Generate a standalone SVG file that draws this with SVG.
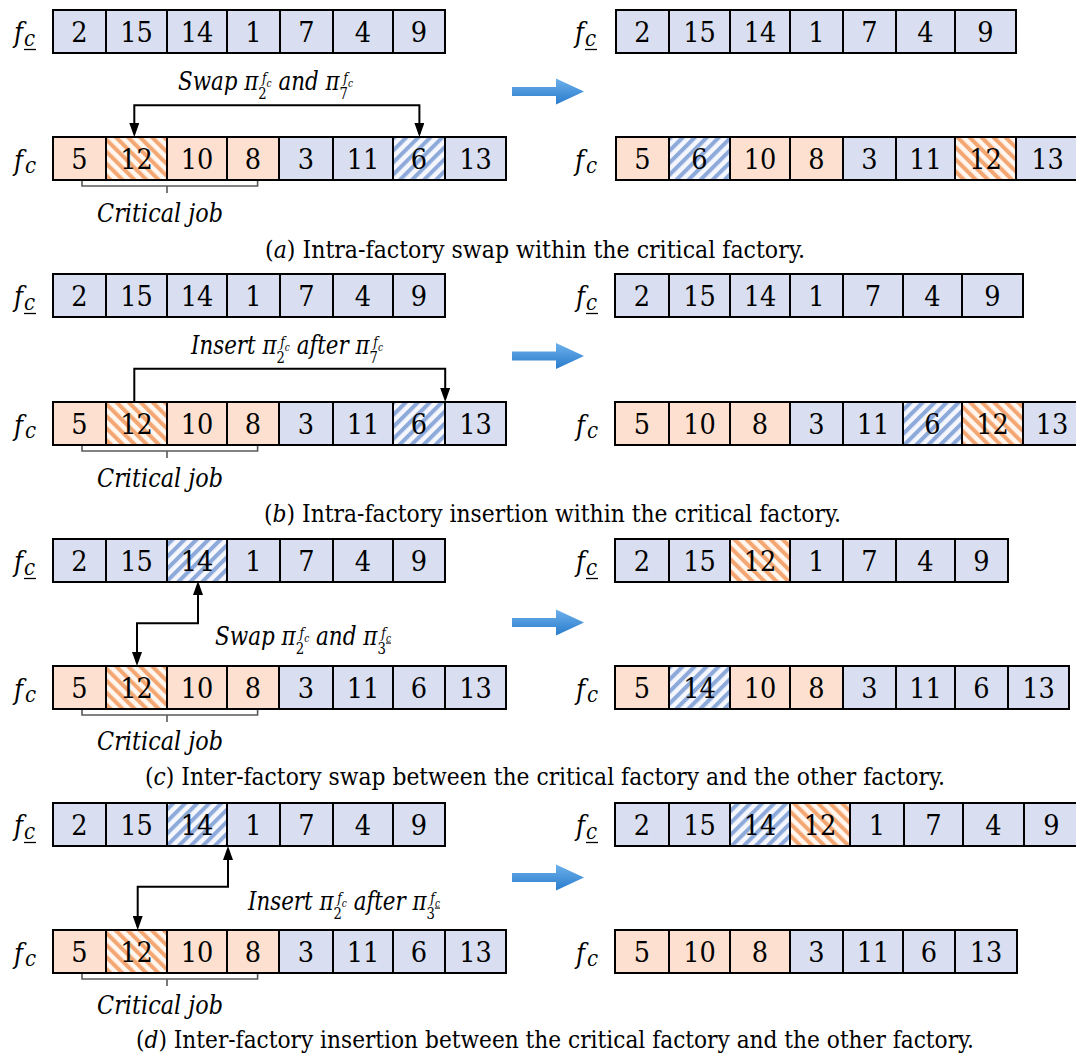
<svg xmlns="http://www.w3.org/2000/svg" width="1076" height="1054" viewBox="0 0 1076 1054">
  <defs>
    <style>
      .b { fill: #d9dff1; stroke: #000; stroke-width: 2; }
      .o { fill: #fde0d0; stroke: #000; stroke-width: 2; }
      .bh { fill: url(#hatchB); stroke: #000; stroke-width: 2; }
      .oh { fill: url(#hatchO); stroke: #000; stroke-width: 2; }
      .t { font-family: "DejaVu Serif Condensed", "DejaVu Serif", serif; font-stretch: condensed; fill: #000; }
      .n { font-size: 28.5px; text-anchor: middle; }
      .f { font-size: 27px; font-style: italic; }
      .fc { font-size: 22px; font-style: italic; }
      .ul { stroke: #000; stroke-width: 1.3; }
      .lab { font-size: 26px; font-style: italic; }
      .sub { font-size: 16px; font-style: normal; }
      .sup { font-size: 15px; }
      .supc { font-size: 11px; }
      .cj { font-size: 25.5px; font-style: italic; }
      .cap { font-size: 25px; }
      .conn { fill: none; stroke: #000; stroke-width: 2; }
      .brk { fill: none; stroke: #595959; stroke-width: 1.6; }
      .big { fill: url(#blueGrad); }
    </style>
    <pattern id="hatchO" width="8.5" height="8.5" patternUnits="userSpaceOnUse" patternTransform="rotate(-45)">
      <rect width="8.5" height="8.5" fill="#fff6ef"/>
      <rect width="4" height="8.5" fill="#f4a773"/>
    </pattern>
    <pattern id="hatchB" width="8.5" height="8.5" patternUnits="userSpaceOnUse" patternTransform="rotate(45)">
      <rect width="8.5" height="8.5" fill="#f5f7fc"/>
      <rect width="4" height="8.5" fill="#8eaadb"/>
    </pattern>
    <linearGradient id="blueGrad" x1="0" y1="0" x2="0" y2="1">
      <stop offset="0" stop-color="#6cb0ea"/>
      <stop offset="1" stop-color="#2a7ccd"/>
    </linearGradient>
    <marker id="ah" viewBox="0 0 14 10" refX="11" refY="5" markerWidth="14" markerHeight="10" markerUnits="userSpaceOnUse" orient="auto-start-reverse">
      <path d="M0,0 L14,5 L0,10 Z" fill="#000"/>
    </marker>
  </defs>
  <rect width="1076" height="1054" fill="#fff"/>

  <g class="t">
  <!-- ===== (a) intra-factory swap ===== -->
  <g id="a-left-top">
    <text class="f" x="14" y="42">f</text><text class="fc" x="24" y="46">c</text><line class="ul" x1="24" y1="49.5" x2="36" y2="49.5"/>
    <rect class="b" x="53" y="10" width="53" height="43"/><rect class="b" x="106" y="10" width="61" height="43"/><rect class="b" x="167" y="10" width="60" height="43"/><rect class="b" x="227" y="10" width="53" height="43"/><rect class="b" x="280" y="10" width="53" height="43"/><rect class="b" x="333" y="10" width="60" height="43"/><rect class="b" x="393" y="10" width="52" height="43"/>
    <text class="n" x="79.5" y="42">2</text><text class="n" x="136.5" y="42">15</text><text class="n" x="197" y="42">14</text><text class="n" x="253.5" y="42">1</text><text class="n" x="306.5" y="42">7</text><text class="n" x="363" y="42">4</text><text class="n" x="419" y="42">9</text>
  </g>
  <g id="a-left-bottom">
    <text class="f" x="14" y="170">f</text><text class="fc" x="25" y="173">c</text>
    <rect class="o" x="53" y="137" width="53" height="43"/><rect class="oh" x="106" y="137" width="61" height="43"/><rect class="o" x="167" y="137" width="60" height="43"/><rect class="o" x="227" y="137" width="52" height="43"/><rect class="b" x="279" y="137" width="54" height="43"/><rect class="b" x="333" y="137" width="60" height="43"/><rect class="bh" x="393" y="137" width="52" height="43"/><rect class="b" x="445" y="137" width="61" height="43"/>
    <text class="n" x="79.5" y="169">5</text><text class="n" x="136.5" y="169">12</text><text class="n" x="197" y="169">10</text><text class="n" x="253" y="169">8</text><text class="n" x="306" y="169">3</text><text class="n" x="363" y="169">11</text><text class="n" x="419" y="169">6</text><text class="n" x="475.5" y="169">13</text>
  </g>
  <g id="a-label">
    <text class="lab" x="178" y="90" textLength="175" lengthAdjust="spacingAndGlyphs">Swap <tspan>π</tspan><tspan class="sub" dy="9">2</tspan><tspan class="sup" dx="-5" dy="-16">f</tspan><tspan class="supc" dy="3.5">c</tspan><tspan dy="3.5"> and </tspan><tspan>π</tspan><tspan class="sub" dy="9">7</tspan><tspan class="sup" dx="-5" dy="-16">f</tspan><tspan class="supc" dy="3.5">c</tspan></text>
  </g>
  <g id="a-critical">
    <path class="brk" d="M82,181 V186 H257.6 V181 M167,186 V193"/>
    <text class="cj" x="97" y="222" textLength="126" lengthAdjust="spacingAndGlyphs">Critical job</text>
  </g>
  <g id="a-right-top">
    <text class="f" x="575" y="42">f</text><text class="fc" x="585" y="46">c</text><line class="ul" x1="585" y1="49.5" x2="597" y2="49.5"/>
    <rect class="b" x="616" y="10" width="53" height="43"/><rect class="b" x="669" y="10" width="61" height="43"/><rect class="b" x="730" y="10" width="60" height="43"/><rect class="b" x="790" y="10" width="53" height="43"/><rect class="b" x="843" y="10" width="53" height="43"/><rect class="b" x="896" y="10" width="59" height="43"/><rect class="b" x="955" y="10" width="61" height="43"/>
    <text class="n" x="642.5" y="42">2</text><text class="n" x="699.5" y="42">15</text><text class="n" x="760" y="42">14</text><text class="n" x="816.5" y="42">1</text><text class="n" x="869.5" y="42">7</text><text class="n" x="925.5" y="42">4</text><text class="n" x="985.5" y="42">9</text>
  </g>
  <g id="a-right-bottom">
    <text class="f" x="575" y="170">f</text><text class="fc" x="586" y="173">c</text>
    <rect class="o" x="616" y="137" width="53" height="43"/><rect class="bh" x="669" y="137" width="61" height="43"/><rect class="o" x="730" y="137" width="60" height="43"/><rect class="o" x="790" y="137" width="53" height="43"/><rect class="b" x="843" y="137" width="53" height="43"/><rect class="b" x="896" y="137" width="59" height="43"/><rect class="oh" x="955" y="137" width="61" height="43"/><rect class="b" x="1016" y="137" width="63" height="43"/>
    <text class="n" x="642.5" y="169">5</text><text class="n" x="699.5" y="169">6</text><text class="n" x="760" y="169">10</text><text class="n" x="816.5" y="169">8</text><text class="n" x="869.5" y="169">3</text><text class="n" x="925.5" y="169">11</text><text class="n" x="985.5" y="169">12</text><text class="n" x="1047.5" y="169">13</text>
  </g>
  <g id="a-caption">
    <text class="cap" x="265" y="258" textLength="540" lengthAdjust="spacingAndGlyphs">(<tspan font-style="italic">a</tspan>) Intra-factory swap within the critical factory.</text>
  </g>

  <!-- ===== (b) intra-factory insertion ===== -->
  <g id="b-left-top">
    <text class="f" x="14" y="306">f</text><text class="fc" x="24" y="310">c</text><line class="ul" x1="24" y1="313.5" x2="36" y2="313.5"/>
    <rect class="b" x="53" y="274" width="53" height="43"/><rect class="b" x="106" y="274" width="61" height="43"/><rect class="b" x="167" y="274" width="60" height="43"/><rect class="b" x="227" y="274" width="53" height="43"/><rect class="b" x="280" y="274" width="53" height="43"/><rect class="b" x="333" y="274" width="60" height="43"/><rect class="b" x="393" y="274" width="52" height="43"/>
    <text class="n" x="79.5" y="306">2</text><text class="n" x="136.5" y="306">15</text><text class="n" x="197" y="306">14</text><text class="n" x="253.5" y="306">1</text><text class="n" x="306.5" y="306">7</text><text class="n" x="363" y="306">4</text><text class="n" x="419" y="306">9</text>
  </g>
  <g id="b-left-bottom">
    <text class="f" x="14" y="435">f</text><text class="fc" x="25" y="438">c</text>
    <rect class="o" x="53" y="402" width="53" height="43"/><rect class="oh" x="106" y="402" width="61" height="43"/><rect class="o" x="167" y="402" width="60" height="43"/><rect class="o" x="227" y="402" width="52" height="43"/><rect class="b" x="279" y="402" width="54" height="43"/><rect class="b" x="333" y="402" width="60" height="43"/><rect class="bh" x="393" y="402" width="52" height="43"/><rect class="b" x="445" y="402" width="61" height="43"/>
    <text class="n" x="79.5" y="434">5</text><text class="n" x="136.5" y="434">12</text><text class="n" x="197" y="434">10</text><text class="n" x="253" y="434">8</text><text class="n" x="306" y="434">3</text><text class="n" x="363" y="434">11</text><text class="n" x="419" y="434">6</text><text class="n" x="475.5" y="434">13</text>
  </g>
  <g id="b-label">
    <text class="lab" x="191" y="354" textLength="192" lengthAdjust="spacingAndGlyphs">Insert <tspan>π</tspan><tspan class="sub" dy="9">2</tspan><tspan class="sup" dx="-5" dy="-16">f</tspan><tspan class="supc" dy="3.5">c</tspan><tspan dy="3.5"> after </tspan><tspan>π</tspan><tspan class="sub" dy="9">7</tspan><tspan class="sup" dx="-5" dy="-16">f</tspan><tspan class="supc" dy="3.5">c</tspan></text>
  </g>
  <g id="b-critical">
    <path class="brk" d="M82,446 V451 H257.6 V446 M167,451 V458"/>
    <text class="cj" x="97" y="487" textLength="126" lengthAdjust="spacingAndGlyphs">Critical job</text>
  </g>
  <g id="b-right-top">
    <text class="f" x="576" y="306">f</text><text class="fc" x="586" y="310">c</text><line class="ul" x1="586" y1="313.5" x2="598" y2="313.5"/>
    <rect class="b" x="615" y="274" width="54" height="43"/><rect class="b" x="669" y="274" width="61" height="43"/><rect class="b" x="730" y="274" width="60" height="43"/><rect class="b" x="790" y="274" width="53" height="43"/><rect class="b" x="843" y="274" width="60" height="43"/><rect class="b" x="903" y="274" width="59" height="43"/><rect class="b" x="962" y="274" width="61" height="43"/>
    <text class="n" x="642" y="306">2</text><text class="n" x="699.5" y="306">15</text><text class="n" x="760" y="306">14</text><text class="n" x="816.5" y="306">1</text><text class="n" x="873" y="306">7</text><text class="n" x="932.5" y="306">4</text><text class="n" x="992.5" y="306">9</text>
  </g>
  <g id="b-right-bottom">
    <text class="f" x="576" y="435">f</text><text class="fc" x="587" y="438">c</text>
    <rect class="o" x="615" y="402" width="54" height="43"/><rect class="o" x="669" y="402" width="61" height="43"/><rect class="o" x="730" y="402" width="60" height="43"/><rect class="b" x="790" y="402" width="53" height="43"/><rect class="b" x="843" y="402" width="60" height="43"/><rect class="bh" x="903" y="402" width="59" height="43"/><rect class="oh" x="962" y="402" width="61" height="43"/><rect class="b" x="1023" y="402" width="58" height="43"/>
    <text class="n" x="642" y="434">5</text><text class="n" x="699.5" y="434">10</text><text class="n" x="760" y="434">8</text><text class="n" x="816.5" y="434">3</text><text class="n" x="873" y="434">11</text><text class="n" x="932.5" y="434">6</text><text class="n" x="992.5" y="434">12</text><text class="n" x="1052" y="434">13</text>
  </g>
  <g id="b-caption">
    <text class="cap" x="264" y="522" textLength="577" lengthAdjust="spacingAndGlyphs">(<tspan font-style="italic">b</tspan>) Intra-factory insertion within the critical factory.</text>
  </g>

  <!-- ===== (c) inter-factory swap ===== -->
  <g id="c-left-top">
    <text class="f" x="14" y="571">f</text><text class="fc" x="24" y="575">c</text><line class="ul" x1="24" y1="578.5" x2="36" y2="578.5"/>
    <rect class="b" x="53" y="539" width="53" height="43"/><rect class="b" x="106" y="539" width="61" height="43"/><rect class="bh" x="167" y="539" width="60" height="43"/><rect class="b" x="227" y="539" width="53" height="43"/><rect class="b" x="280" y="539" width="53" height="43"/><rect class="b" x="333" y="539" width="60" height="43"/><rect class="b" x="393" y="539" width="52" height="43"/>
    <text class="n" x="79.5" y="571">2</text><text class="n" x="136.5" y="571">15</text><text class="n" x="197" y="571">14</text><text class="n" x="253.5" y="571">1</text><text class="n" x="306.5" y="571">7</text><text class="n" x="363" y="571">4</text><text class="n" x="419" y="571">9</text>
  </g>
  <g id="c-left-bottom">
    <text class="f" x="14" y="699">f</text><text class="fc" x="25" y="702">c</text>
    <rect class="o" x="53" y="666" width="53" height="43"/><rect class="oh" x="106" y="666" width="61" height="43"/><rect class="o" x="167" y="666" width="60" height="43"/><rect class="o" x="227" y="666" width="52" height="43"/><rect class="b" x="279" y="666" width="54" height="43"/><rect class="b" x="333" y="666" width="60" height="43"/><rect class="b" x="393" y="666" width="52" height="43"/><rect class="b" x="445" y="666" width="61" height="43"/>
    <text class="n" x="79.5" y="698">5</text><text class="n" x="136.5" y="698">12</text><text class="n" x="197" y="698">10</text><text class="n" x="253" y="698">8</text><text class="n" x="306" y="698">3</text><text class="n" x="363" y="698">11</text><text class="n" x="419" y="698">6</text><text class="n" x="475.5" y="698">13</text>
  </g>
  <g id="c-label">
    <text class="lab" x="215" y="645" textLength="176" lengthAdjust="spacingAndGlyphs">Swap <tspan>π</tspan><tspan class="sub" dy="9">2</tspan><tspan class="sup" dx="-5" dy="-16">f</tspan><tspan class="supc" dy="3.5">c</tspan><tspan dy="3.5"> and </tspan><tspan>π</tspan><tspan class="sub" dy="9">3</tspan><tspan class="sup" dx="-5" dy="-16">f</tspan><tspan class="supc" dy="3.5" text-decoration="underline">c</tspan></text>
  </g>
  <g id="c-critical">
    <path class="brk" d="M82,710 V715 H257.6 V710 M167,715 V722"/>
    <text class="cj" x="97" y="750" textLength="126" lengthAdjust="spacingAndGlyphs">Critical job</text>
  </g>
  <g id="c-right-top">
    <text class="f" x="576" y="571">f</text><text class="fc" x="586" y="575">c</text><line class="ul" x1="586" y1="578.5" x2="598" y2="578.5"/>
    <rect class="b" x="615" y="539" width="54" height="43"/><rect class="b" x="669" y="539" width="61" height="43"/><rect class="oh" x="730" y="539" width="60" height="43"/><rect class="b" x="790" y="539" width="53" height="43"/><rect class="b" x="843" y="539" width="53" height="43"/><rect class="b" x="896" y="539" width="59" height="43"/><rect class="b" x="955" y="539" width="53" height="43"/>
    <text class="n" x="642" y="571">2</text><text class="n" x="699.5" y="571">15</text><text class="n" x="760" y="571">12</text><text class="n" x="816.5" y="571">1</text><text class="n" x="869.5" y="571">7</text><text class="n" x="925.5" y="571">4</text><text class="n" x="981.5" y="571">9</text>
  </g>
  <g id="c-right-bottom">
    <text class="f" x="576" y="699">f</text><text class="fc" x="587" y="702">c</text>
    <rect class="o" x="615" y="666" width="54" height="43"/><rect class="bh" x="669" y="666" width="61" height="43"/><rect class="o" x="730" y="666" width="60" height="43"/><rect class="o" x="790" y="666" width="53" height="43"/><rect class="b" x="843" y="666" width="53" height="43"/><rect class="b" x="896" y="666" width="59" height="43"/><rect class="b" x="955" y="666" width="53" height="43"/><rect class="b" x="1008" y="666" width="61" height="43"/>
    <text class="n" x="642" y="698">5</text><text class="n" x="699.5" y="698">14</text><text class="n" x="760" y="698">10</text><text class="n" x="816.5" y="698">8</text><text class="n" x="869.5" y="698">3</text><text class="n" x="925.5" y="698">11</text><text class="n" x="981.5" y="698">6</text><text class="n" x="1038.5" y="698">13</text>
  </g>
  <g id="c-caption">
    <text class="cap" x="145" y="785" textLength="800" lengthAdjust="spacingAndGlyphs">(<tspan font-style="italic">c</tspan>) Inter-factory swap between the critical factory and the other factory.</text>
  </g>

  <!-- ===== (d) inter-factory insertion ===== -->
  <g id="d-left-top">
    <text class="f" x="14" y="835">f</text><text class="fc" x="24" y="839">c</text><line class="ul" x1="24" y1="842.5" x2="36" y2="842.5"/>
    <rect class="b" x="53" y="803" width="53" height="43"/><rect class="b" x="106" y="803" width="61" height="43"/><rect class="bh" x="167" y="803" width="60" height="43"/><rect class="b" x="227" y="803" width="53" height="43"/><rect class="b" x="280" y="803" width="53" height="43"/><rect class="b" x="333" y="803" width="60" height="43"/><rect class="b" x="393" y="803" width="52" height="43"/>
    <text class="n" x="79.5" y="835">2</text><text class="n" x="136.5" y="835">15</text><text class="n" x="197" y="835">14</text><text class="n" x="253.5" y="835">1</text><text class="n" x="306.5" y="835">7</text><text class="n" x="363" y="835">4</text><text class="n" x="419" y="835">9</text>
  </g>
  <g id="d-left-bottom">
    <text class="f" x="14" y="963">f</text><text class="fc" x="25" y="966">c</text>
    <rect class="o" x="53" y="930" width="53" height="43"/><rect class="oh" x="106" y="930" width="61" height="43"/><rect class="o" x="167" y="930" width="60" height="43"/><rect class="o" x="227" y="930" width="52" height="43"/><rect class="b" x="279" y="930" width="54" height="43"/><rect class="b" x="333" y="930" width="60" height="43"/><rect class="b" x="393" y="930" width="52" height="43"/><rect class="b" x="445" y="930" width="61" height="43"/>
    <text class="n" x="79.5" y="962">5</text><text class="n" x="136.5" y="962">12</text><text class="n" x="197" y="962">10</text><text class="n" x="253" y="962">8</text><text class="n" x="306" y="962">3</text><text class="n" x="363" y="962">11</text><text class="n" x="419" y="962">6</text><text class="n" x="475.5" y="962">13</text>
  </g>
  <g id="d-label">
    <text class="lab" x="248" y="910" textLength="192" lengthAdjust="spacingAndGlyphs">Insert <tspan>π</tspan><tspan class="sub" dy="9">2</tspan><tspan class="sup" dx="-5" dy="-16">f</tspan><tspan class="supc" dy="3.5">c</tspan><tspan dy="3.5"> after </tspan><tspan>π</tspan><tspan class="sub" dy="9">3</tspan><tspan class="sup" dx="-5" dy="-16">f</tspan><tspan class="supc" dy="3.5" text-decoration="underline">c</tspan></text>
  </g>
  <g id="d-critical">
    <path class="brk" d="M82,974 V979 H257.6 V974 M167,979 V986"/>
    <text class="cj" x="97" y="1014" textLength="126" lengthAdjust="spacingAndGlyphs">Critical job</text>
  </g>
  <g id="d-right-top">
    <text class="f" x="576" y="835">f</text><text class="fc" x="586" y="839">c</text><line class="ul" x1="586" y1="842.5" x2="598" y2="842.5"/>
    <rect class="b" x="615" y="803" width="54" height="43"/><rect class="b" x="669" y="803" width="61" height="43"/><rect class="bh" x="730" y="803" width="60" height="43"/><rect class="oh" x="790" y="803" width="60" height="43"/><rect class="b" x="850" y="803" width="54" height="43"/><rect class="b" x="904" y="803" width="59" height="43"/><rect class="b" x="963" y="803" width="61" height="43"/><rect class="b" x="1024" y="803" width="55" height="43"/>
    <text class="n" x="642" y="835">2</text><text class="n" x="699.5" y="835">15</text><text class="n" x="760" y="835">14</text><text class="n" x="820" y="835">12</text><text class="n" x="877" y="835">1</text><text class="n" x="933.5" y="835">7</text><text class="n" x="993.5" y="835">4</text><text class="n" x="1051.5" y="835">9</text>
  </g>
  <g id="d-right-bottom">
    <text class="f" x="576" y="963">f</text><text class="fc" x="587" y="966">c</text>
    <rect class="o" x="615" y="930" width="54" height="43"/><rect class="o" x="669" y="930" width="61" height="43"/><rect class="o" x="730" y="930" width="60" height="43"/><rect class="b" x="790" y="930" width="53" height="43"/><rect class="b" x="843" y="930" width="60" height="43"/><rect class="b" x="903" y="930" width="52" height="43"/><rect class="b" x="955" y="930" width="62" height="43"/>
    <text class="n" x="642" y="962">5</text><text class="n" x="699.5" y="962">10</text><text class="n" x="760" y="962">8</text><text class="n" x="816.5" y="962">3</text><text class="n" x="873" y="962">11</text><text class="n" x="929" y="962">6</text><text class="n" x="986" y="962">13</text>
  </g>
  <g id="d-caption">
    <text class="cap" x="136" y="1048" textLength="838" lengthAdjust="spacingAndGlyphs">(<tspan font-style="italic">d</tspan>) Inter-factory insertion between the critical factory and the other factory.</text>
  </g>
  </g>

  <!-- transition arrows between before/after states -->
  <g id="transition-arrows">
    <path class="big" d="M512,87 H556 V78.5 L584,91.5 L556,104.5 V96 H512 Z"/>
    <path class="big" d="M512,351.5 H556 V343 L584,356 L556,369 V360.5 H512 Z"/>
    <path class="big" d="M512,618 H556 V609.5 L584,622.5 L556,635.5 V627 H512 Z"/>
    <path class="big" d="M512,873 H556 V864.5 L584,877.5 L556,890.5 V882 H512 Z"/>
  </g>

  <!-- move connectors -->
  <g id="connectors">
    <path class="conn" d="M134.3,134 V105.3 H419.4 V134" marker-start="url(#ah)" marker-end="url(#ah)"/>
    <path class="conn" d="M134.3,402 V368.7 H445.2 V399" marker-end="url(#ah)"/>
    <path class="conn" d="M198,584 V623.3 H137 V663" marker-start="url(#ah)" marker-end="url(#ah)"/>
    <path class="conn" d="M228,849 V886.7 H137.7 V927" marker-start="url(#ah)" marker-end="url(#ah)"/>
  </g>
</svg>
